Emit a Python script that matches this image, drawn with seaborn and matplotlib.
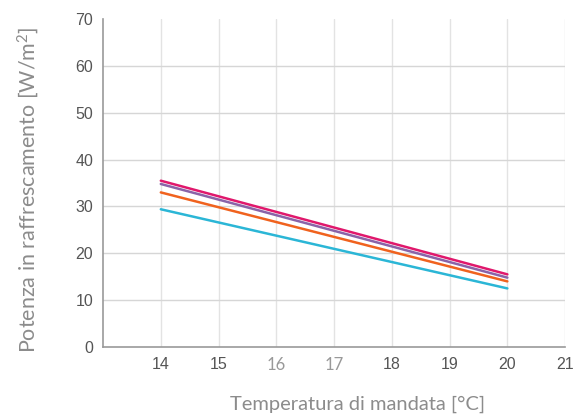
import numpy as np
import matplotlib
matplotlib.use("Agg")
import matplotlib.pyplot as plt
import seaborn as sns
import pandas as pd

# mandata temperatures and cooling power per curve
temps = [14, 20]
series_names = ['s1', 's2', 's3', 's4']
s1 = [35.5, 15.5]
s2 = [34.8, 14.8]
s3 = [33.0, 14.0]
s4 = [29.4, 12.5]
colors = ['#e0186c', '#8a63a8', '#f0621e', '#2bb6d6']

x_ticks = [14, 15, 16, 17, 18, 19, 20, 21]
y_ticks = [0, 10, 20, 30, 40, 50, 60, 70]

df = pd.DataFrame({'T': temps * 4,
                   'P': s1 + s2 + s3 + s4,
                   'serie': np.repeat(series_names, len(temps))})

sns.set_style("white")
plt.rcParams['font.family'] = ['Liberation Sans', 'DejaVu Sans']
plt.rcParams['mathtext.default'] = 'regular'

fig = plt.figure(figsize=(5.79, 4.16), dpi=100)
ax = fig.add_axes([0.178, 0.166, 0.798, 0.788])

sns.lineplot(data=df, x='T', y='P', hue='serie', palette=colors,
             linewidth=1.8, legend=False, ax=ax, zorder=3)

ax.set_xlim(13, 21)
ax.set_ylim(0, 70)
ax.set_xticks(x_ticks)
ax.set_yticks(y_ticks)
ax.tick_params(axis='both', length=0, labelsize=11.5, labelcolor='#555555')
ax.tick_params(axis='x', pad=7)
ax.tick_params(axis='y', pad=7)

for lab in ax.get_xticklabels():
    if lab.get_text() in ('16', '17'):
        lab.set_fontfamily(['Lato', 'DejaVu Sans'])
        lab.set_color('#999999')
        lab.set_fontsize(12)

for v in x_ticks:
    ax.axvline(v, color='#e3e3e3', linewidth=1, zorder=1)
for v in y_ticks[1:-1]:
    ax.axhline(v, color='#d6d6d6', linewidth=1, zorder=1)

for side in ['top', 'right']:
    ax.spines[side].set_visible(False)
ax.spines['left'].set_color('#999999')
ax.spines['left'].set_linewidth(1.2)
ax.spines['bottom'].set_color('#999999')
ax.spines['bottom'].set_linewidth(1.2)

ax.set_xlabel('Temperatura di mandata [°C]', fontsize=14.5, color='#8c8c8c',
              family=['Lato', 'DejaVu Sans'])
ax.xaxis.set_label_coords(0.55, -0.148)
ax.set_ylabel('Potenza in raffrescamento [W/m$^2$]', fontsize=15.5, color='#8c8c8c',
              family=['Lato', 'DejaVu Sans'])
ax.yaxis.set_label_coords(-0.135, 0.48)

fig.savefig('out.png', dpi=100)
